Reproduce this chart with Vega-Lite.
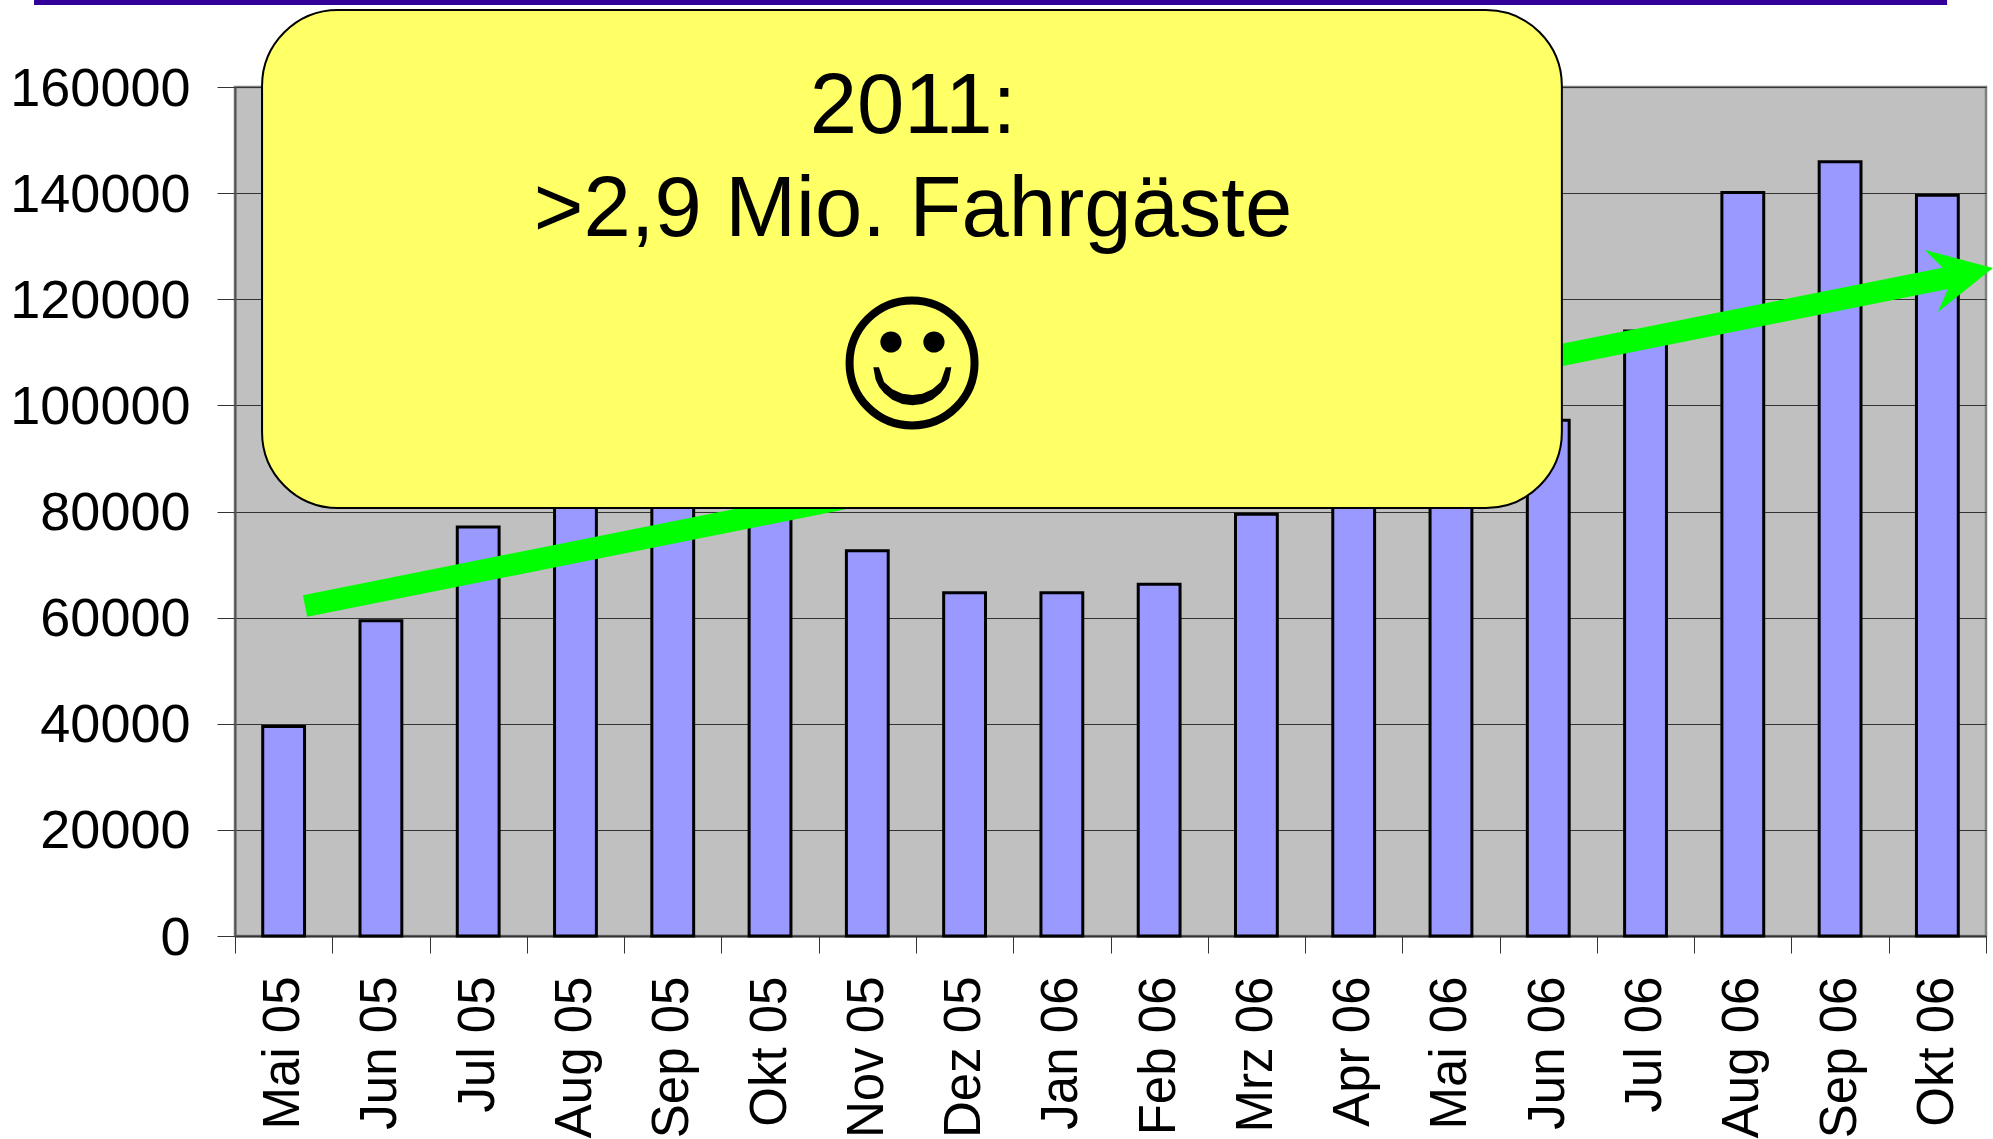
{"$schema":"https://vega.github.io/schema/vega-lite/v6.json","width":1751,"height":849,"autosize":{"type":"none"},"padding":{"left":235,"top":87,"right":7,"bottom":203},"background":"#ffffff","config":{"font":"Liberation Sans","view":{"fill":"#C0C0C0","stroke":"#808080","strokeWidth":2.5}},"datasets":{"months":[{"month":"Mai 05","riders":39500},{"month":"Jun 05","riders":59400},{"month":"Jul 05","riders":77100},{"month":"Aug 05","riders":92000},{"month":"Sep 05","riders":95000},{"month":"Okt 05","riders":88000},{"month":"Nov 05","riders":72600},{"month":"Dez 05","riders":64700},{"month":"Jan 06","riders":64700},{"month":"Feb 06","riders":66300},{"month":"Mrz 06","riders":79500},{"month":"Apr 06","riders":86000},{"month":"Mai 06","riders":90000},{"month":"Jun 06","riders":97200},{"month":"Jul 06","riders":114000},{"month":"Aug 06","riders":140100},{"month":"Sep 06","riders":145900},{"month":"Okt 06","riders":139600}],"smile":[{"i":6.562,"top":107170,"bottom":107170},{"i":6.586,"top":107170,"bottom":104845},{"i":6.62,"top":107170,"bottom":103527},{"i":6.672,"top":104407,"bottom":102334},{"i":6.757,"top":103024,"bottom":101078},{"i":6.86,"top":102207,"bottom":100260},{"i":6.963,"top":101957,"bottom":100010},{"i":7.066,"top":102207,"bottom":100260},{"i":7.169,"top":103024,"bottom":101078},{"i":7.254,"top":104407,"bottom":102334},{"i":7.306,"top":107170,"bottom":103527},{"i":7.34,"top":107170,"bottom":104845},{"i":7.364,"top":107170,"bottom":107170}]},"resolve":{"scale":{"x":"independent"},"axis":{"y":"independent"}},"layer":[{"data":{"name":"months"},"mark":{"type":"bar","fill":"#9999FF","stroke":"#000000","strokeWidth":3,"width":{"band":0.43}},"encoding":{"x":{"field":"month","type":"nominal","sort":null,"scale":{"paddingInner":0,"paddingOuter":0},"axis":{"title":null,"labelAngle":-90,"labelFontSize":51,"labelColor":"#000000","labelPadding":23,"labelLimit":400,"tickSize":17,"tickBand":"extent","tickColor":"#333333","domainColor":"#333333","domainWidth":2,"labelOverlap":false,"labelBound":false,"grid":false}},"y":{"field":"riders","type":"quantitative","scale":{"domain":[0,160000],"nice":false},"axis":{"title":null,"values":[0,20000,40000,60000,80000,100000,120000,140000,160000],"format":"d","labelFontSize":54,"labelColor":"#000000","labelPadding":27,"labelOffset":2,"labelLimit":400,"tickSize":18,"tickColor":"#333333","domainColor":"#555555","domainWidth":2,"grid":true,"gridColor":"#333333","gridWidth":1,"labelOverlap":false,"labelBound":false}}}},{"data":{"values":[{"i0":0.72,"i1":17.6,"v0":62190,"v1":124007}]},"mark":{"type":"rule","color":"#00FF00","strokeWidth":22,"strokeCap":"butt"},"encoding":{"x":{"field":"i0","type":"quantitative","scale":{"domain":[0,18],"nice":false,"zero":false},"axis":null},"x2":{"field":"i1"},"y":{"field":"v0","type":"quantitative","scale":{"domain":[0,160000],"nice":false},"axis":null},"y2":{"field":"v1"}}},{"data":{"values":[{"i":17.578,"v":124950}]},"mark":{"type":"point","shape":"M.96 -.1 L-.4 -.46 L-.04 -.1 L.06 .32 L-.14 .78 Z","filled":true,"fill":"#00FF00","stroke":null,"opacity":1,"size":10000},"encoding":{"x":{"field":"i","type":"quantitative","scale":{"domain":[0,18],"nice":false,"zero":false},"axis":null},"y":{"field":"v","type":"quantitative","scale":{"domain":[0,160000],"nice":false},"axis":null}}},{"data":{"values":[{"i0":-2.066,"i1":17.6,"v0":175450,"v1":176400}]},"mark":{"type":"rect","fill":"#330099"},"encoding":{"x":{"field":"i0","type":"quantitative","scale":{"domain":[0,18],"nice":false,"zero":false},"axis":null},"x2":{"field":"i1"},"y":{"field":"v0","type":"quantitative","scale":{"domain":[0,160000],"nice":false},"axis":null},"y2":{"field":"v1"}}},{"data":{"values":[{"i0":0.278,"i1":13.64,"v0":80660,"v1":174500}]},"mark":{"type":"rect","fill":"#FFFF66","stroke":"#000000","strokeWidth":2,"cornerRadius":76},"encoding":{"x":{"field":"i0","type":"quantitative","scale":{"domain":[0,18],"nice":false,"zero":false},"axis":null},"x2":{"field":"i1"},"y":{"field":"v0","type":"quantitative","scale":{"domain":[0,160000],"nice":false},"axis":null},"y2":{"field":"v1"}}},{"data":{"values":[{"i":6.97,"v":151330,"label":"2011:"},{"i":6.97,"v":131920,"label":">2,9 Mio. Fahrgäste"}]},"mark":{"type":"text","fontSize":85,"color":"#000000","align":"center","baseline":"alphabetic"},"encoding":{"x":{"field":"i","type":"quantitative","scale":{"domain":[0,18],"nice":false,"zero":false},"axis":null},"y":{"field":"v","type":"quantitative","scale":{"domain":[0,160000],"nice":false},"axis":null},"text":{"field":"label"}}},{"data":{"values":[{"i":6.96,"v":107990}]},"mark":{"type":"point","shape":"circle","filled":false,"stroke":"#000000","strokeWidth":8,"opacity":1,"size":15625},"encoding":{"x":{"field":"i","type":"quantitative","scale":{"domain":[0,18],"nice":false,"zero":false},"axis":null},"y":{"field":"v","type":"quantitative","scale":{"domain":[0,160000],"nice":false},"axis":null}}},{"data":{"values":[{"i":6.743,"v":111945},{"i":7.185,"v":111945}]},"mark":{"type":"point","shape":"circle","filled":true,"fill":"#000000","stroke":null,"opacity":1,"size":450},"encoding":{"x":{"field":"i","type":"quantitative","scale":{"domain":[0,18],"nice":false,"zero":false},"axis":null},"y":{"field":"v","type":"quantitative","scale":{"domain":[0,160000],"nice":false},"axis":null}}},{"data":{"name":"smile"},"mark":{"type":"area","fill":"#000000","interpolate":"linear"},"encoding":{"x":{"field":"i","type":"quantitative","scale":{"domain":[0,18],"nice":false,"zero":false},"axis":null},"y":{"field":"top","type":"quantitative","scale":{"domain":[0,160000],"nice":false},"axis":null,"stack":null},"y2":{"field":"bottom"}}}]}
